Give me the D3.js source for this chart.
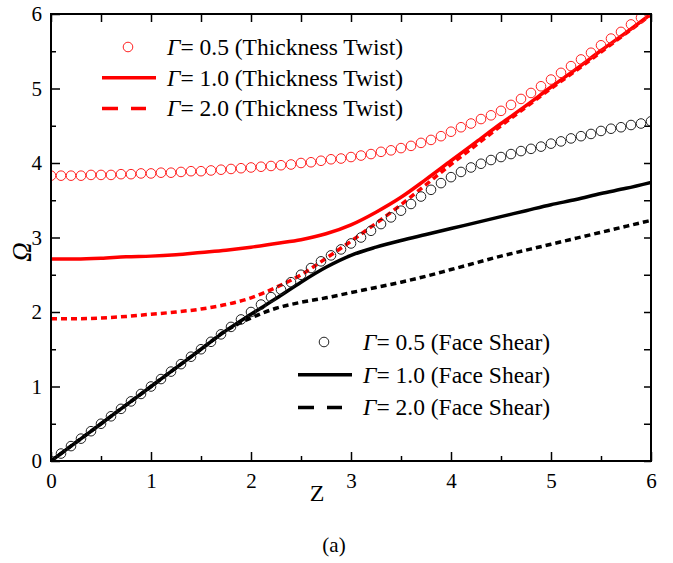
<!DOCTYPE html>
<html>
<head>
<meta charset="utf-8">
<script src="https://cdn.jsdelivr.net/npm/d3@7"></script>
<style>
  body { margin: 0; background: #fff; }
  svg text { font-family: "Liberation Serif", "Times New Roman", serif; fill: #000; }
  .tick line { stroke: #000; stroke-width: 1.5; }
</style>
</head>
<body>
<svg width="673" height="563"></svg>
<script>
// Z positions of the circle markers
const zCircle = [0, 0.1, 0.2, 0.3, 0.4, 0.5, 0.6, 0.7, 0.8, 0.9,
  1.0, 1.1, 1.2, 1.3, 1.4, 1.5, 1.6, 1.7, 1.8, 1.9,
  2.0, 2.1, 2.2, 2.3, 2.4, 2.5, 2.6, 2.7, 2.8, 2.9,
  3.0, 3.1, 3.2, 3.3, 3.4, 3.5, 3.6, 3.7, 3.8, 3.9,
  4.0, 4.1, 4.2, 4.3, 4.4, 4.5, 4.6, 4.7, 4.8, 4.9,
  5.0, 5.1, 5.2, 5.3, 5.4, 5.5, 5.6, 5.7, 5.8, 5.9, 6.0];

// Gamma = 0.5, thickness twist (red circles)
const tt05 = [3.83, 3.83, 3.83, 3.83, 3.84, 3.84, 3.84, 3.85, 3.85, 3.86,
  3.86, 3.87, 3.87, 3.88, 3.89, 3.89, 3.90, 3.91, 3.92, 3.93,
  3.94, 3.95, 3.96, 3.97, 3.98, 4.00, 4.01, 4.03, 4.05, 4.06,
  4.08, 4.10, 4.12, 4.15, 4.17, 4.20, 4.23, 4.27, 4.31, 4.36,
  4.42, 4.48, 4.53, 4.59, 4.64, 4.70, 4.78, 4.86, 4.94, 5.03,
  5.12, 5.21, 5.30, 5.39, 5.48, 5.58, 5.67, 5.76, 5.86, 5.95, 6.04];

// Gamma = 0.5, face shear (black circles)
const fs05 = [0.00, 0.10, 0.20, 0.30, 0.40, 0.50, 0.60, 0.70, 0.80, 0.90,
  1.00, 1.10, 1.20, 1.30, 1.40, 1.50, 1.60, 1.70, 1.80, 1.90,
  2.00, 2.10, 2.20, 2.30, 2.40, 2.50, 2.59, 2.68, 2.76, 2.84,
  2.92, 3.00, 3.09, 3.18, 3.27, 3.36, 3.45, 3.55, 3.64, 3.73,
  3.81, 3.88, 3.94, 3.99, 4.04, 4.08, 4.12, 4.16, 4.19, 4.22,
  4.26, 4.29, 4.33, 4.36, 4.39, 4.43, 4.46, 4.48, 4.51, 4.53, 4.56];

// Z positions of the line curves
const zLine = [0, 0.25, 0.5, 0.75, 1.0, 1.25, 1.5, 1.75, 2.0, 2.25, 2.5, 2.75,
  3.0, 3.25, 3.5, 3.75, 4.0, 4.25, 4.5, 4.75, 5.0, 5.25, 5.5, 5.75, 6.0];

// Gamma = 1.0 / 2.0, thickness twist (red lines)
const tt10 = [2.71, 2.71, 2.72, 2.74, 2.75, 2.77, 2.80, 2.83, 2.87, 2.92, 2.97, 3.05,
  3.17, 3.34, 3.54, 3.78, 4.03, 4.28, 4.53, 4.77, 5.02, 5.26, 5.51, 5.75, 6.00];

const tt20 = [1.91, 1.91, 1.92, 1.94, 1.97, 2.00, 2.04, 2.10, 2.19, 2.33, 2.50, 2.72,
  2.95, 3.19, 3.44, 3.71, 3.98, 4.24, 4.50, 4.75, 5.00, 5.24, 5.49, 5.74, 5.99];

// Gamma = 1.0 / 2.0, face shear (black lines)
const fs10 = [0.00, 0.25, 0.50, 0.75, 1.00, 1.25, 1.50, 1.75, 1.97, 2.18, 2.40, 2.60,
  2.76, 2.87, 2.96, 3.04, 3.12, 3.20, 3.28, 3.36, 3.44, 3.51, 3.59, 3.66, 3.74];

const fs20 = [0.00, 0.25, 0.50, 0.75, 1.00, 1.25, 1.50, 1.75, 1.92, 2.05, 2.13, 2.19,
  2.26, 2.33, 2.40, 2.48, 2.57, 2.66, 2.75, 2.83, 2.91, 2.99, 3.07, 3.15, 3.23];

const xTicks = [0, 1, 2, 3, 4, 5, 6];
const yTicks = [0, 1, 2, 3, 4, 5, 6];
const halfTicks = [0, 0.5, 1, 1.5, 2, 2.5, 3, 3.5, 4, 4.5, 5, 5.5, 6];
const minorTicks = [0.5, 1.5, 2.5, 3.5, 4.5, 5.5];

const legendTop = [
  { g: '0.5', label: ' (Thickness Twist)', kind: 'circle', color: '#ff2020' },
  { g: '1.0', label: ' (Thickness Twist)', kind: 'solid', color: '#ff0000' },
  { g: '2.0', label: ' (Thickness Twist)', kind: 'dash', color: '#ff0000' }
];
const legendBottom = [
  { g: '0.5', label: ' (Face Shear)', kind: 'circle', color: '#222' },
  { g: '1.0', label: ' (Face Shear)', kind: 'solid', color: '#000' },
  { g: '2.0', label: ' (Face Shear)', kind: 'dash', color: '#000' }
];

const svg = d3.select('svg');

const margin = { top: 14, right: 22, bottom: 102, left: 51 };
const innerWidth = +svg.attr('width') - margin.left - margin.right;
const innerHeight = +svg.attr('height') - margin.top - margin.bottom;

const xScale = d3.scaleLinear().domain([0, 6]).range([0, innerWidth]);
const yScale = d3.scaleLinear().domain([0, 6]).range([innerHeight, 0]);

const g = svg.append('g')
  .attr('transform', `translate(${margin.left},${margin.top})`);

g.append('clipPath').attr('id', 'plot-clip')
  .append('rect')
  .attr('width', innerWidth)
  .attr('height', innerHeight);

// ticks: major + minor on bottom/left, equal-length on top/right
const bottomMajor = g.append('g')
  .attr('transform', `translate(0,${innerHeight})`)
  .call(d3.axisBottom(xScale).tickValues(xTicks).tickSize(-9).tickPadding(12).tickFormat(d3.format('d')));
const bottomMinor = g.append('g')
  .attr('transform', `translate(0,${innerHeight})`)
  .call(d3.axisBottom(xScale).tickValues(minorTicks).tickSize(-5).tickFormat(''));
const leftMajor = g.append('g')
  .call(d3.axisLeft(yScale).tickValues(yTicks).tickSize(-9).tickPadding(9).tickFormat(d3.format('d')));
const leftMinor = g.append('g')
  .call(d3.axisLeft(yScale).tickValues(minorTicks).tickSize(-5).tickFormat(''));
const topAxis = g.append('g')
  .call(d3.axisTop(xScale).tickValues(halfTicks).tickSize(-8).tickFormat(''));
const rightAxis = g.append('g')
  .attr('transform', `translate(${innerWidth},0)`)
  .call(d3.axisRight(yScale).tickValues(halfTicks).tickSize(-7).tickFormat(''));

[bottomMajor, bottomMinor, leftMajor, leftMinor, topAxis, rightAxis].forEach(a => {
  a.select('.domain').remove();
  a.selectAll('text').style('font-size', '21px')
    .style('font-family', '"Liberation Serif", "Times New Roman", serif');
});
[bottomMinor, leftMinor, topAxis, rightAxis].forEach(a => a.selectAll('text').remove());

// curves
const plot = g.append('g').attr('clip-path', 'url(#plot-clip)');

const lineGenerator = d3.line()
  .x(d => xScale(d.z))
  .y(d => yScale(d.v))
  .curve(d3.curveMonotoneX);

const toPoints = (zs, vs) => zs.map((z, i) => ({ z, v: vs[i] }));

const lines = [
  { values: fs20, color: '#000', dash: '6,4' },
  { values: fs10, color: '#000', dash: null },
  { values: tt20, color: '#ff0000', dash: '6,4' },
  { values: tt10, color: '#ff0000', dash: null }
];

lines.forEach(s => {
  plot.append('path')
    .attr('d', lineGenerator(toPoints(zLine, s.values)))
    .attr('fill', 'none')
    .attr('stroke', s.color)
    .attr('stroke-width', 3.5)
    .attr('stroke-dasharray', s.dash);
});

const circles = [
  { values: fs05, color: '#222' },
  { values: tt05, color: '#ff2020' }
];

circles.forEach(s => {
  plot.append('g')
    .selectAll('circle')
    .data(toPoints(zCircle, s.values))
    .join('circle')
    .attr('cx', d => xScale(d.z))
    .attr('cy', d => yScale(d.v))
    .attr('r', 4.8)
    .attr('fill', 'none')
    .attr('stroke', s.color)
    .attr('stroke-width', 1);
});

// frame
g.append('rect')
  .attr('width', innerWidth)
  .attr('height', innerHeight)
  .attr('fill', 'none')
  .attr('stroke', '#000')
  .attr('stroke-width', 2);

// axis labels
g.append('text')
  .attr('x', 266)
  .attr('y', innerHeight + 40)
  .attr('text-anchor', 'middle')
  .style('font-size', '24px')
  .text('Z');

g.append('text')
  .attr('transform', `translate(-20,${238}) rotate(-90)`)
  .attr('text-anchor', 'middle')
  .style('font-size', '27px')
  .style('font-style', 'italic')
  .text('Ω');

svg.append('text')
  .attr('x', 334)
  .attr('y', 552)
  .attr('text-anchor', 'middle')
  .style('font-size', '21px')
  .text('(a)');

// legends
function drawLegend(items, x0, y0, rowGap) {
  const lg = svg.append('g');
  items.forEach((d, i) => {
    const y = y0 + i * rowGap;
    if (d.kind === 'circle') {
      lg.append('circle')
        .attr('cx', x0 + 26).attr('cy', y).attr('r', 4.8)
        .attr('fill', 'none').attr('stroke', d.color).attr('stroke-width', 1);
    } else {
      lg.append('line')
        .attr('x1', x0).attr('x2', d.kind === 'dash' ? x0 + 44 : x0 + 54)
        .attr('y1', y).attr('y2', y)
        .attr('stroke', d.color).attr('stroke-width', 3.5)
        .attr('stroke-dasharray', d.kind === 'dash' ? '16,13' : null);
    }
    const t = lg.append('text')
      .attr('x', x0 + 65)
      .attr('y', y + 8)
      .style('font-size', '23.5px');
    t.append('tspan').style('font-style', 'italic').text('Γ');
    t.append('tspan').text('= ' + d.g + d.label);
  });
}

drawLegend(legendTop, 102, 47, 30.7);
drawLegend(legendBottom, 298, 342, 32.7);
</script>
</body>
</html>
